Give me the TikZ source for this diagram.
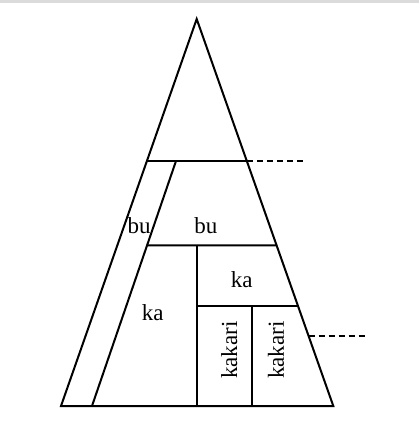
\documentclass[tikz,border=0pt]{standalone}
\usepackage{fontspec}
\setmainfont{Liberation Serif}
\usetikzlibrary{calc}

\begin{document}
\begin{tikzpicture}[x=0.5pt,y=0.5pt,line width=1pt,line join=miter,
  every node/.style={font=\fontsize{11.5}{13}\selectfont,inner sep=0pt},
  guide/.style={dash pattern=on 3pt off 2pt}]
\useasboundingbox (0,0) rectangle (419,430);
\fill[gray!28] (0,427.5) rectangle (419,430);
\coordinate (A) at (61,24);
\coordinate (B) at (333.3,24);
\coordinate (C) at (196.7,411);
\coordinate (D) at (92,24);
\coordinate (E) at (176,269);
% outline and levels
\draw (A)--(B)--(C)--cycle;
\coordinate (T1) at ($(A)!0.633!(C)$);
\coordinate (T2) at ($(B)!0.633!(C)$);
\draw (T1)--(T2);
\draw[guide] (T2)--++(58,0) coordinate (T3);
\draw (D)--(E);
\coordinate (M1) at ($(D)!0.656!(E)$);
\coordinate (M2) at ($(B)!0.415!(C)$);
\draw (M1)--(M2);
\coordinate (V1) at (197.5,24);
\coordinate (V2) at (252,24);
\draw (V1)--(V1|-M1) coordinate (V1t);
\coordinate (L2) at ($(B)!0.259!(C)$);
\draw (V1|-L2)--(L2);
\draw (V2)--(V2|-L2) coordinate (V2t);
\coordinate (K1) at ($(B)!0.181!(C)$);
\draw[guide] (K1)--++(59,0) coordinate (K2);
% labels
\node (bu1) at (139,204) {bu};
\node (bu2) at (206,204) {bu};
\node (ka1) at (241.7,150) {ka};
\node (ka2) at (152.7,117.3) {ka};
\foreach \x [count=\i] in {229.3,276}
  \node[rotate=90] (kakari\i) at (\x,80) {kakari};
\end{tikzpicture}
\end{document}
